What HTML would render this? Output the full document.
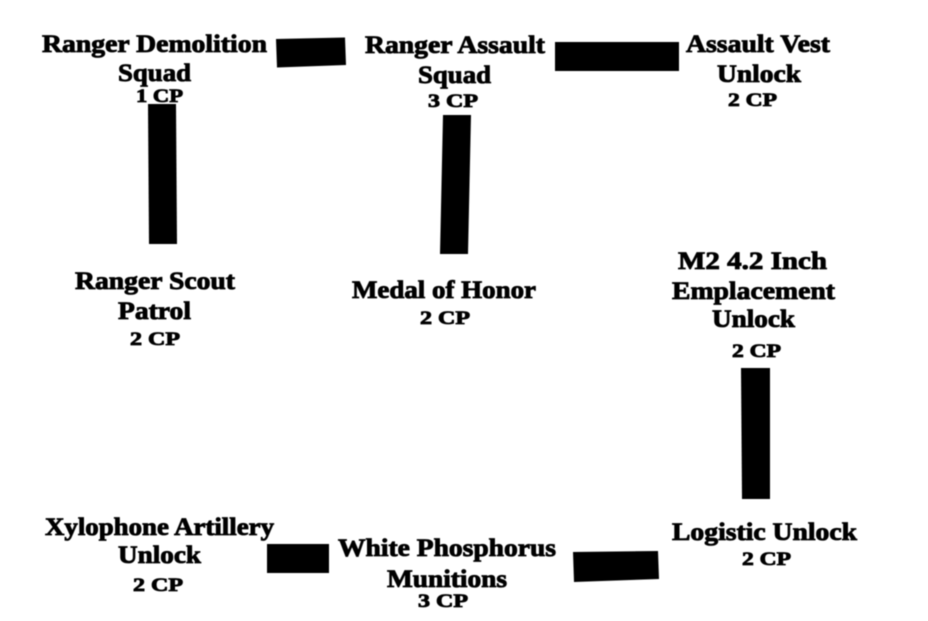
<!DOCTYPE html>
<html lang="en">
<head>
<meta charset="utf-8">
<title>Ranger Command Tree</title>
<style>
html,body{margin:0;padding:0;background:#fff;width:928px;height:621px;overflow:hidden}
svg{display:block}
text{font-family:"Liberation Serif",serif;font-weight:bold;fill:#000;stroke:#000;stroke-width:.85px;font-size:25px}
text.cp{font-size:19px;stroke-width:.85px}
</style>
</head>
<body>
<svg width="928" height="621" viewBox="0 0 928 621" xmlns="http://www.w3.org/2000/svg">
<defs><filter id="b" x="-5%" y="-5%" width="110%" height="110%"><feGaussianBlur stdDeviation="0.4"/></filter></defs>
<g filter="url(#b)">
<polygon points="276,39 345,37.5 346,65 277,67.5"/>
<polygon points="555,42 679,42 679,71 555,71"/>
<polygon points="148,104 176,104 177,244 149,244"/>
<polygon points="443,115 471,115 468,254 440,254"/>
<polygon points="741,368 770,368 770,499 742,499"/>
<polygon points="267,544 329,544 329,573 267,573"/>
<polygon points="573,552 658,551 659,579 574,582"/>

<text x="42" y="52" textLength="225" lengthAdjust="spacingAndGlyphs">Ranger Demolition</text>
<text x="118" y="81" textLength="73" lengthAdjust="spacingAndGlyphs">Squad</text>
<text class="cp" x="136" y="102" textLength="47" lengthAdjust="spacingAndGlyphs">1 CP</text>

<text x="365" y="53" textLength="180" lengthAdjust="spacingAndGlyphs">Ranger Assault</text>
<text x="418" y="83" textLength="73" lengthAdjust="spacingAndGlyphs">Squad</text>
<text class="cp" x="428" y="107" textLength="50" lengthAdjust="spacingAndGlyphs">3 CP</text>

<text x="686" y="52" textLength="144" lengthAdjust="spacingAndGlyphs">Assault Vest</text>
<text x="717" y="82" textLength="84" lengthAdjust="spacingAndGlyphs">Unlock</text>
<text class="cp" x="728" y="106" textLength="49" lengthAdjust="spacingAndGlyphs">2 CP</text>

<text x="75" y="289" textLength="160" lengthAdjust="spacingAndGlyphs">Ranger Scout</text>
<text x="118" y="319" textLength="73" lengthAdjust="spacingAndGlyphs">Patrol</text>
<text class="cp" x="130" y="345" textLength="50" lengthAdjust="spacingAndGlyphs">2 CP</text>

<text x="352" y="298" textLength="184" lengthAdjust="spacingAndGlyphs">Medal of Honor</text>
<text class="cp" x="420" y="324" textLength="50" lengthAdjust="spacingAndGlyphs">2 CP</text>

<text x="678" y="269" textLength="149" lengthAdjust="spacingAndGlyphs">M2 4.2 Inch</text>
<text x="672" y="299" textLength="163" lengthAdjust="spacingAndGlyphs">Emplacement</text>
<text x="712" y="327" textLength="83" lengthAdjust="spacingAndGlyphs">Unlock</text>
<text class="cp" x="732" y="357" textLength="49" lengthAdjust="spacingAndGlyphs">2 CP</text>

<text x="672" y="540" textLength="185" lengthAdjust="spacingAndGlyphs">Logistic Unlock</text>
<text class="cp" x="742" y="565" textLength="49" lengthAdjust="spacingAndGlyphs">2 CP</text>

<text x="45" y="535" textLength="229" lengthAdjust="spacingAndGlyphs">Xylophone Artillery</text>
<text x="118" y="563" textLength="83" lengthAdjust="spacingAndGlyphs">Unlock</text>
<text class="cp" x="133" y="591" textLength="50" lengthAdjust="spacingAndGlyphs">2 CP</text>

<text x="338" y="556" textLength="218" lengthAdjust="spacingAndGlyphs">White Phosphorus</text>
<text x="387" y="587" textLength="120" lengthAdjust="spacingAndGlyphs">Munitions</text>
<text class="cp" x="418" y="607" textLength="50" lengthAdjust="spacingAndGlyphs">3 CP</text>
</g>
</svg>
</body>
</html>
